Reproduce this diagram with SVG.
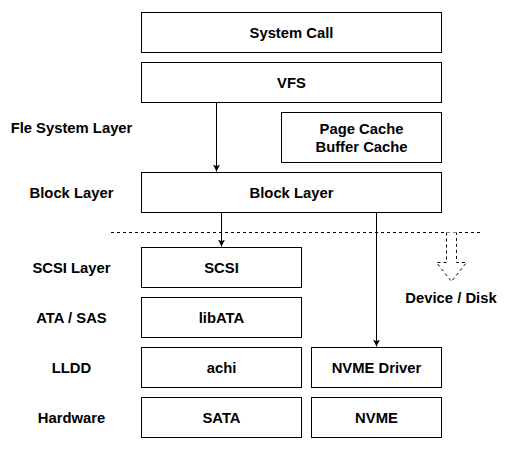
<svg xmlns="http://www.w3.org/2000/svg" width="516" height="449" viewBox="0 0 516 449">
<style>
.box{fill:#fff;stroke:#000;stroke-width:1}
.t{font-family:"Liberation Sans",Arial,sans-serif;font-weight:bold;font-size:14.8px;fill:#000;text-anchor:middle;dominant-baseline:central}
.c{fill:none;stroke:#000;stroke-width:1}
</style>
<defs>
<marker id="ah" markerWidth="8" markerHeight="8" refX="7" refY="4" orient="auto" markerUnits="userSpaceOnUse">
<path d="M0,0.5 L7,4 L0,7.5 L1.8,4 Z" fill="#000"/>
</marker>
</defs>
<rect width="516" height="449" fill="#fff"/>
<g id="connectors">
<line class="c" x1="216.5" y1="102.5" x2="216.5" y2="171.5" marker-end="url(#ah)"/>
<line class="c" x1="221.5" y1="212.5" x2="221.5" y2="246.5" marker-end="url(#ah)"/>
<line class="c" x1="376.5" y1="212.5" x2="376.5" y2="346.5" marker-end="url(#ah)"/>
<line class="c" x1="111" y1="232.5" x2="481" y2="232.5" stroke-dasharray="3,3"/>
<path d="M446.5,232.5 L446.5,262.5 L436.5,262.5 L451.5,281.5 L466.5,262.5 L456.5,262.5 L456.5,232.5" fill="#fff" stroke="#000" stroke-dasharray="3,3"/>
</g>
<g id="labels">
<text class="t" x="71.5" y="128">Fle System Layer</text>
<text class="t" x="71.5" y="193">Block Layer</text>
<text class="t" x="71.5" y="268">SCSI Layer</text>
<text class="t" x="71.5" y="318">ATA / SAS</text>
<text class="t" x="71.5" y="368">LLDD</text>
<text class="t" x="71.5" y="418">Hardware</text>
<text class="t" x="451" y="298">Device / Disk</text>
</g>
<g id="system-call"><rect class="box" x="141.5" y="12.5" width="300" height="40"/><text class="t" x="291.5" y="33">System Call</text></g>
<g id="vfs"><rect class="box" x="141.5" y="62.5" width="300" height="40"/><text class="t" x="291.5" y="83">VFS</text></g>
<g id="page-cache"><rect class="box" x="281.5" y="112.5" width="160" height="50"/><text class="t" x="361.5" y="129">Page Cache</text><text class="t" x="361.5" y="147">Buffer Cache</text></g>
<g id="block-layer"><rect class="box" x="141.5" y="172.5" width="300" height="40"/><text class="t" x="291.5" y="193">Block Layer</text></g>
<g id="scsi"><rect class="box" x="141.5" y="247.5" width="160" height="40"/><text class="t" x="221.5" y="268">SCSI</text></g>
<g id="libata"><rect class="box" x="141.5" y="297.5" width="160" height="40"/><text class="t" x="221.5" y="318">libATA</text></g>
<g id="achi"><rect class="box" x="141.5" y="347.5" width="160" height="40"/><text class="t" x="221.5" y="368">achi</text></g>
<g id="nvme-driver"><rect class="box" x="311.5" y="347.5" width="130" height="40"/><text class="t" x="376.5" y="368">NVME Driver</text></g>
<g id="sata"><rect class="box" x="141.5" y="397.5" width="160" height="40"/><text class="t" x="221.5" y="418">SATA</text></g>
<g id="nvme"><rect class="box" x="311.5" y="397.5" width="130" height="40"/><text class="t" x="376.5" y="418">NVME</text></g>
</svg>
